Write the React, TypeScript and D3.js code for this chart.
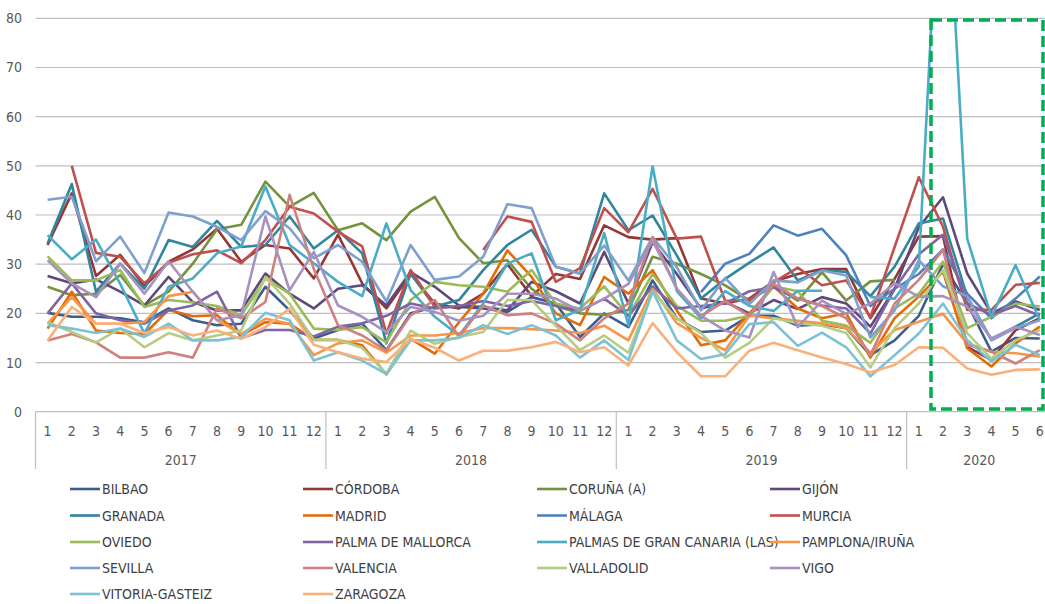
import React from "react";
import * as d3 from "d3";

const years = ["2017", "2018", "2019", "2020"];
const monthsPerYear = [12, 12, 12, 6];
const yTicks = [0, 10, 20, 30, 40, 50, 60, 70, 80];

const seriesNames = [
  "BILBAO", "CÓRDOBA", "CORUÑA (A)", "GIJÓN", "GRANADA", "MADRID", "MÁLAGA", "MURCIA",
  "OVIEDO", "PALMA DE MALLORCA", "PALMAS DE GRAN CANARIA (LAS)", "PAMPLONA/IRUÑA",
  "SEVILLA", "VALENCIA", "VALLADOLID", "VIGO", "VITORIA-GASTEIZ", "ZARAGOZA",
];

const seriesColors = [
  "#3A5F8F", "#953735", "#76923C", "#5F497A", "#31859C", "#E36C09", "#4F81BD", "#C0504D",
  "#9BBB59", "#8064A2", "#4BACC6", "#F79646", "#7F9FCF", "#D0807E", "#B4CD82", "#A592BE",
  "#7CC2D5", "#F9B07A",
];

const N = null;

const bilbao = [20.1, 19.3, 19.3, 19.0, 18.2, 21.0, 18.6, 17.6, 17.9, 25.4, 20.6, 14.9,
  16.6, 17.9, 12.5, 20.0, 21.3, 21.3, 21.0, 20.3, 23.3, 22.0, 15.2, 20.0,
  17.2, 26.7, 19.0, 16.2, 16.5, 19.5, 19.5, 17.5, 17.8, 17.0, 11.5, 14.5,
  19.5, 30.0, 22.0, 12.2, 15.0, 14.9];
const cordoba = [33.9, 44.4, 27.6, 31.9, 25.5, 30.5, 33.0, 37.2, 30.5, 33.9, 33.2, 27.1,
  36.0, 26.1, 21.0, 28.0, 22.0, 21.0, 24.0, 30.0, 23.5, 28.0, 27.0, 37.9,
  35.5, 35.0, 35.3, 23.0, 22.0, 23.0, 26.5, 28.0, 29.0, 29.0, 19.0, 27.0,
  35.6, 35.7, 13.2, 10.5, 16.6, 19.0];
const coruna = [25.4, 23.7, 24.0, 27.8, 21.6, 24.4, 30.1, 37.1, 38.0, 46.8, 41.7, 44.5,
  36.9, 38.3, 34.9, 40.7, 43.7, 35.3, 30.2, 30.8, 25.0, 21.5, 20.0, 19.7,
  20.7, 31.5, 30.1, 28.0, 25.7, 22.6, 25.7, 22.6, 28.4, 22.6, 26.5, 26.8,
  N, N, N, N, N, N];
const gijon = [27.6, 26.1, 26.9, 24.4, 21.6, 27.4, 22.3, 20.6, 20.6, 28.1, 24.0, 21.0,
  25.0, 25.7, 21.6, 28.4, 25.4, 21.6, 21.3, 20.6, 26.4, 24.5, 22.0, 32.5,
  22.0, 34.5, 28.0, 21.0, 22.3, 20.0, 22.7, 20.9, 23.3, 22.0, 17.3, 25.0,
  37.5, 43.6, 28.1, 20.0, 22.4, 20.7];
const granada = [34.2, 46.3, 24.4, 30.1, 25.0, 34.9, 33.5, 38.8, 33.5, 33.9, 39.7, 33.2,
  36.9, 32.2, 13.9, 28.1, 21.4, 22.7, 28.8, 33.9, 37.0, 29.5, 28.1, 44.4,
  36.9, 39.9, 31.8, 23.0, 27.0, 30.3, 33.4, 26.7, 28.8, 28.4, 23.5, 29.5,
  38.3, 39.3, 23.4, 14.6, 17.3, 20.0];
const madrid = [16.9, 24.4, 16.5, 16.0, 15.8, 20.7, 19.4, 19.6, 15.5, 18.2, 17.9, 14.6,
  14.6, 13.5, 7.6, 14.8, 11.8, 18.2, 24.0, 32.8, 27.4, 20.0, 17.6, 27.4,
  24.0, 28.8, 20.6, 13.5, 14.5, 20.0, 25.5, 21.0, 19.0, 20.0, 11.0, 19.0,
  23.4, 28.5, 12.9, 9.2, 13.9, 17.3];
const malaga = [N, N, N, N, N, N, N, N, N, N, N, N,
  N, N, N, N, N, N, N, N, N, N, N, N,
  N, N, N, 24.3, 30.1, 32.1, 37.9, 35.8, 37.2, 31.8, 21.5, 25.0,
  28.0, 33.0, 24.0, 19.0, 23.0, 27.5];
const murcia = [N, 50.0, 32.3, 31.5, 26.1, 30.3, 32.0, 32.8, 30.2, 34.9, 41.7, 40.3,
  36.6, 33.6, 15.9, 28.8, 21.4, N, 32.9, 39.7, 38.6, 26.4, 29.2, 41.4,
  36.5, 45.3, 35.2, 35.6, 22.5, 22.7, 26.3, 29.3, 25.7, 26.7, 19.2, 33.5,
  47.7, 37.6, 20.7, 20.7, 25.8, 26.2];
const oviedo = [31.6, 26.7, 26.7, 28.8, 21.3, 22.7, 22.2, 21.5, 19.6, 27.1, 24.0, 16.9,
  16.6, 17.2, 14.1, 22.7, 26.4, 25.7, 25.4, 24.4, 28.8, 22.0, 21.0, 25.5,
  19.5, 28.0, 21.5, 18.5, 18.5, 19.5, 25.5, 24.5, 18.5, 17.5, 14.0, 21.0,
  24.0, 30.5, 17.0, 19.3, 22.0, 21.4];
const palma = [20.0, 26.1, 20.0, 18.6, 17.9, 20.6, 21.6, 24.4, 15.0, 16.6, 16.6, 15.3,
  17.3, 18.0, 19.5, 22.0, 21.0, 21.5, 22.5, 21.5, 22.5, 21.5, 20.5, 23.0,
  19.5, 25.5, 21.0, 21.5, 22.0, 24.5, 25.3, 23.0, 21.6, 21.0, 15.9, 25.0,
  32.0, 36.0, 22.0, 19.7, 21.5, 19.5];
const palmas = [35.9, 31.0, 35.0, 26.0, 15.9, 25.4, 27.1, 32.2, 33.6, 45.8, 33.9, 30.2,
  26.4, 23.5, 38.3, 24.7, 19.3, 15.5, 22.0, 30.1, 32.2, 18.6, 20.7, 36.3,
  17.5, 49.9, 24.5, 19.0, 24.5, 21.5, 20.5, 24.6, 24.6, N, 23.3, 23.0,
  29.5, 125.0, 35.2, 19.3, 29.8, 18.6];
const pamplona = [17.9, 23.3, 17.9, 17.9, 18.2, 23.5, 24.4, 18.6, 15.8, 18.9, 17.9, 11.5,
  13.9, 14.5, 12.0, 15.5, 15.5, 16.0, 17.0, 17.0, 16.8, 16.5, 16.0, 17.5,
  14.5, 25.0, 18.0, 15.0, 12.5, 19.5, 19.0, 18.5, 18.0, 17.0, 12.0, 16.6,
  18.3, 19.9, 13.9, 12.2, 11.9, 11.2];
const sevilla = [43.1, 43.7, 30.6, 35.6, 28.2, 40.5, 39.7, 37.6, 34.9, 40.8, 37.3, 31.2,
  33.9, 30.5, 22.4, 33.9, 26.8, 27.5, 31.5, 42.2, 41.4, 29.5, 28.1, 33.8,
  26.7, 35.5, 29.4, 20.6, 27.2, 21.9, 26.7, 26.3, 28.7, 27.7, 15.1, 20.6,
  30.8, 25.5, 23.5, 14.5, 17.0, 18.6];
const valencia = [14.5, 15.8, 14.1, 11.0, 11.0, 12.1, 11.0, 21.0, 19.0, 22.3, 44.1, 29.0,
  17.6, 15.5, 12.4, 19.6, 22.7, 15.2, 21.6, 19.6, 20.0, 17.9, 14.5, 19.0,
  22.0, 35.5, 25.0, 19.5, 22.5, 19.5, 26.0, 23.0, 21.5, 19.0, 11.5, 22.0,
  26.8, 32.9, 13.6, 12.2, 9.8, 12.5];
const valladolid = [18.2, 16.2, 14.1, 16.9, 13.1, 16.0, 14.5, 15.5, 16.5, 27.4, 22.0, 14.6,
  14.6, 13.0, 7.7, 16.5, 13.8, 15.2, 16.2, 22.7, 22.7, 17.5, 12.5, 15.5,
  12.0, 24.5, 19.0, 16.0, 11.0, 14.0, 19.0, 18.0, 17.5, 16.0, 9.0, 17.0,
  22.0, 28.8, 16.0, 10.8, 14.5, 16.6];
const vigo = [30.8, 26.1, 23.3, 30.1, 24.0, 30.6, 24.4, 18.6, 19.6, 39.7, 24.7, 32.5,
  21.6, 19.3, 16.2, 21.3, 20.3, 18.5, 19.5, 24.0, 24.0, 23.0, 20.5, 23.0,
  26.0, 34.8, 25.0, 19.5, 16.5, 15.1, 28.4, 17.2, 22.6, 19.9, 22.0, 26.1,
  23.4, 23.5, 21.4, 14.9, 17.3, 15.6];
const vitoria = [17.6, 16.9, 16.0, 16.9, 15.2, 17.9, 14.5, 14.5, 15.2, 20.1, 18.6, 10.4,
  12.1, 10.4, 7.7, 14.5, 14.5, 15.0, 17.6, 15.8, 17.6, 15.5, 11.0, 14.5,
  10.5, 24.5, 14.5, 10.7, 11.7, 17.8, 18.2, 13.4, 16.1, 13.1, 7.2, 11.5,
  15.9, 22.0, 14.6, 10.2, 13.6, 11.5];
const zaragoza = [14.5, 21.3, 17.9, 17.9, 16.0, 17.2, 15.5, 16.5, 14.8, 17.2, 21.0, 13.6,
  12.1, 10.8, 10.1, 14.8, 13.0, 10.4, 12.4, 12.4, 13.1, 14.2, 12.1, 13.1,
  9.4, 18.0, 12.1, 7.2, 7.2, 12.4, 14.0, 12.5, 11.0, 9.7, 8.0, 9.5,
  13.1, 13.0, 8.8, 7.5, 8.5, 8.6];

const seriesValues = [bilbao, cordoba, coruna, gijon, granada, madrid, malaga, murcia,
  oviedo, palma, palmas, pamplona, sevilla, valencia, valladolid, vigo, vitoria, zaragoza];

const W = 1045;
const H = 604;
const FONT = "'Liberation Sans Narrow', 'Arial Narrow', 'DejaVu Sans Condensed', 'Liberation Sans', sans-serif";

export default function App() {
  const left = 35.5;
  const monthW = 24.2;
  const nMonths = d3.sum(monthsPerYear);
  const right = left + monthW * nMonths;
  const top = 18.3;
  const bottom = 411.7;

  const x = d3.scaleLinear().domain([0, nMonths]).range([left, right]);
  const y = d3.scaleLinear().domain([0, 80]).range([bottom, top]);

  const line = d3
    .line<number | null>()
    .defined((d) => d != null)
    .x((_, i) => x(i + 0.5))
    .y((d) => y(d as number));

  const monthLabels: { i: number; label: string }[] = [];
  let idx = 0;
  monthsPerYear.forEach((m) => {
    for (let k = 1; k <= m; k++) monthLabels.push({ i: idx + k - 1, label: String(k) });
    idx += m;
  });
  const yearStarts = monthsPerYear.reduce<number[]>((acc, m, i) => {
    acc.push(i === 0 ? 0 : acc[i - 1] + monthsPerYear[i - 1]);
    return acc;
  }, []);

  const legendCols = [70, 303, 537, 770];
  const legendRows = [489, 515.5, 542, 568, 594];

  return (
    <svg
      width={W}
      height={H}
      style={{ position: "absolute", left: 0, top: 0, background: "#fff" }}
      fontFamily={FONT}
    >
      <defs>
        <clipPath id="plotClip">
          <rect x={left} y={top} width={right - left} height={bottom - top} />
        </clipPath>
      </defs>
      {yTicks.map((t) => (
        <g key={t}>
          {t > 0 && (
            <line x1={left} x2={right} y1={y(t)} y2={y(t)} stroke="#BFBFBF" strokeWidth={1.2} />
          )}
          <text x={22} y={y(t) + 5} textAnchor="end" fontSize={14} fill="#595959">
            {t}
          </text>
        </g>
      ))}
      <line x1={left} x2={right} y1={bottom} y2={bottom} stroke="#BFBFBF" strokeWidth={1.2} />
      {yearStarts.map((s, i) => (
        <line key={"sep" + i} x1={x(s)} x2={x(s)} y1={bottom} y2={469} stroke="#BFBFBF" strokeWidth={1.2} />
      ))}
      <line x1={x(nMonths)} x2={x(nMonths)} y1={bottom} y2={469} stroke="#BFBFBF" strokeWidth={1.2} />
      {monthLabels.map((m) => (
        <text key={"m" + m.i} x={x(m.i + 0.5)} y={436} textAnchor="middle" fontSize={14} fill="#595959">
          {m.label}
        </text>
      ))}
      {years.map((yr, i) => (
        <text
          key={yr}
          x={x(yearStarts[i] + monthsPerYear[i] / 2)}
          y={465}
          textAnchor="middle"
          fontSize={14}
          fill="#595959"
        >
          {yr}
        </text>
      ))}
      <g clipPath="url(#plotClip)">
        {seriesValues.map((vals, si) => (
          <path
            key={seriesNames[si]}
            d={line(vals) || ""}
            fill="none"
            stroke={seriesColors[si]}
            strokeWidth={2.6}
            strokeLinejoin="round"
            strokeLinecap="butt"
          />
        ))}
      </g>
      <rect
        x={931}
        y={20}
        width={112}
        height={389}
        fill="none"
        stroke="#00B050"
        strokeWidth={3.5}
        strokeDasharray="11 5"
      />
      {seriesNames.map((name, i) => {
        const cx = legendCols[i % 4];
        const cy = legendRows[Math.floor(i / 4)];
        return (
          <g key={"lg" + name}>
            <line x1={cx} x2={cx + 30} y1={cy} y2={cy} stroke={seriesColors[i]} strokeWidth={2.6} />
            <text x={cx + 32} y={cy + 5} fontSize={14} fill="#404040">
              {name}
            </text>
          </g>
        );
      })}
    </svg>
  );
}
